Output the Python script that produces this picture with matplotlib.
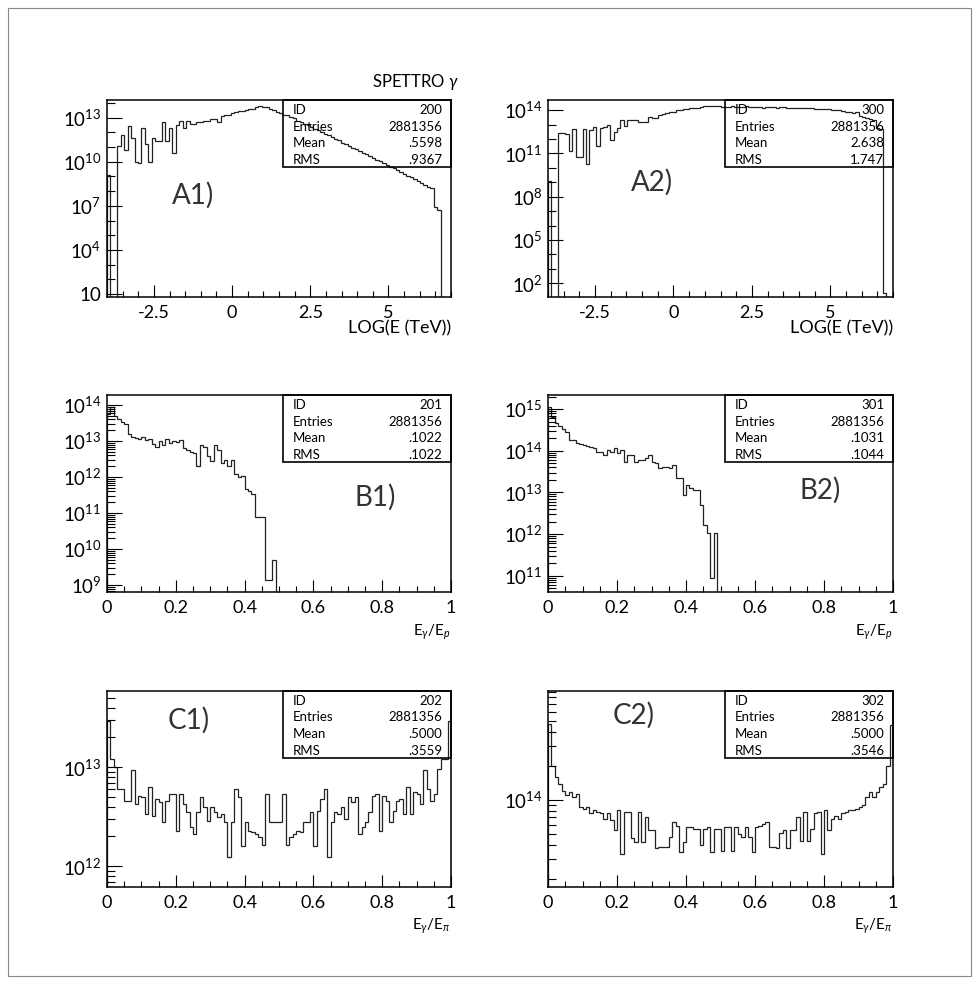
import numpy as np
import matplotlib
matplotlib.use('Agg')
import matplotlib.pyplot as plt
from matplotlib.ticker import FixedLocator, FixedFormatter, MultipleLocator, NullFormatter
from matplotlib.patches import Rectangle

plt.rcParams['font.family'] = ['Lato', 'DejaVu Sans']
plt.rcParams['font.weight'] = 'normal'
plt.rcParams['mathtext.fontset'] = 'custom'
plt.rcParams['mathtext.rm'] = 'Lato'
plt.rcParams['mathtext.it'] = 'Lato:italic'
plt.rcParams['mathtext.bf'] = 'Lato:bold'
plt.rcParams['axes.unicode_minus'] = False

# histogram contents as log10(counts), 100 bins over the axis range; -1 = empty bin
a1 = [9.1, -1, -1, 11.1, 11.8, 10.8, 12.4, 11.6, 10.0, 9.9,
      12.3, 11.2, 10.0, 11.6, 11.4, 11.4, 12.7, 11.4, 12.3, 10.6,
      12.5, 12.8, 12.3, 12.8, 12.6, 12.6, 12.7, 12.7, 12.8, 12.8,
      12.9, 12.9, 12.7, 13.1, 13.2, 13.2, 13.3, 13.4, 13.45, 13.45,
      13.55, 13.6, 13.6, 13.7, 13.8, 13.7, 13.7, 13.6, 13.5, 13.4,
      13.3, 13.2, 13.15, 13.05, 12.95, 12.8, 12.7, 12.6, 12.5, 12.35,
      12.25, 12.15, 12.0, 11.9, 11.8, 11.65, 11.55, 11.45, 11.3, 11.2,
      11.1, 10.95, 10.85, 10.75, 10.6, 10.5, 10.4, 10.25, 10.15, 10.05,
      9.9, 9.8, 9.65, 9.55, 9.45, 9.3, 9.2, 9.05, 8.95, 8.8,
      8.7, 8.55, 8.4, 8.3, 8.2, 6.95, 6.75]
a2 = [9.1, -1, -1, 12.4, 12.4, 12.35, 11.2, 12.7, 10.75, 10.75,
      12.7, 10.3, 12.6, 12.8, 11.5, 12.75, 12.85, 12.95, 11.9, 12.5,
      12.75, 13.3, 12.9, 13.3, 13.3, 13.3, 13.2, 13.2, 13.2, 13.5,
      13.45, 13.45, 13.65, 13.7, 13.8, 13.85, 13.9, 14.0, 14.0, 14.1,
      14.1, 14.15, 14.15, 14.15, 14.2, 14.25, 14.3, 14.3, 14.25, 14.25,
      14.2, 14.22, 14.2, 14.25, 14.23, 14.2, 14.22, 14.25, 14.22, 14.2,
      14.22, 14.2, 14.18, 14.2, 14.22, 14.2, 14.18, 14.2, 14.2, 14.18,
      14.15, 14.17, 14.15, 14.18, 14.15, 14.12, 14.12, 14.1, 14.1, 14.1,
      14.05, 14.05, 14.0, 14.0, 13.98, 13.95, 13.9, 13.85, 13.78, 13.85,
      13.6, 13.5, 13.45, 13.4, 13.3, 12.75, 12.7, 1.3]
b1 = [13.75, 13.95, 13.7, 13.6, 13.52, 13.48, 13.2, 13.12, 13.08, 13.05,
      13.1, 13.02, 13.06, 12.92, 12.84, 13.0, 12.88, 13.05, 12.95, 13.0,
      12.98, 13.02, 12.8, 12.76, 12.7, 12.68, 12.3, 12.9, 12.85, 12.6,
      12.45, 12.9, 12.75, 12.4, 12.48, 12.3, 12.48, 12.08, 12.0, 12.04,
      11.67, 11.62, 11.53, 10.9, 10.9, 10.9, 9.14, 9.14, 9.7]
b2 = [15.06, 14.8, 14.66, 14.6, 14.52, 14.46, 14.26, 14.26, 14.18, 14.16,
      14.14, 14.12, 14.1, 14.06, 13.98, 13.98, 13.9, 14.02, 13.98, 14.06,
      13.94, 14.02, 13.74, 13.9, 13.9, 13.74, 13.78, 13.78, 13.82, 13.9,
      13.74, 13.7, 13.58, 13.62, 13.62, 13.58, 13.66, 13.34, 13.34, 12.94,
      13.18, 13.1, 13.06, 13.06, 12.7, 12.22, 12.02, 10.94, 12.02]
c1 = [13.47, 13.08, 13.0, 12.78, 12.78, 12.66, 12.66, 12.97, 12.63, 12.71,
      12.7, 12.53, 12.8, 12.51, 12.68, 12.65, 12.45, 12.66, 12.73, 12.73,
      12.36, 12.73, 12.63, 12.55, 12.4, 12.33, 12.55, 12.7, 12.6, 12.46,
      12.6, 12.55, 12.5, 12.53, 12.45, 12.09, 12.45, 12.78, 12.7, 12.2,
      12.45, 12.36, 12.35, 12.33, 12.3, 12.21, 12.73, 12.45, 12.45, 12.45,
      12.45, 12.73, 12.21, 12.3, 12.33, 12.36, 12.35, 12.45, 12.45, 12.55,
      12.2, 12.56, 12.68, 12.78, 12.09, 12.45, 12.55, 12.53, 12.6, 12.48,
      12.7, 12.65, 12.7, 12.33, 12.4, 12.45, 12.55, 12.71, 12.73, 12.36,
      12.71, 12.66, 12.45, 12.56, 12.66, 12.68, 12.53, 12.8, 12.53, 12.75,
      12.73, 12.63, 12.97, 12.78, 12.66, 12.73, 12.98, 13.08, 13.08, 13.47]
c2 = [14.67, 14.3, 14.2, 14.14, 14.08, 14.04, 14.07, 14.02, 14.05, 13.94,
      13.92, 13.94, 13.88, 13.91, 13.89, 13.88, 13.83, 13.88, 13.82, 13.73,
      13.91, 13.52, 13.89, 13.89, 13.66, 13.63, 13.89, 13.63, 13.85, 13.73,
      13.73, 13.57, 13.58, 13.58, 13.58, 13.67, 13.8, 13.77, 13.54, 13.63,
      13.76, 13.76, 13.74, 13.74, 13.6, 13.74, 13.76, 13.54, 13.74, 13.74,
      13.55, 13.76, 13.76, 13.55, 13.76, 13.7, 13.67, 13.76, 13.67, 13.54,
      13.76, 13.77, 13.79, 13.8, 13.58, 13.58, 13.57, 13.71, 13.73, 13.57,
      13.73, 13.73, 13.85, 13.64, 13.89, 13.64, 13.74, 13.88, 13.89, 13.52,
      13.91, 13.73, 13.83, 13.86, 13.83, 13.88, 13.89, 13.91, 13.91, 13.92,
      13.94, 13.95, 14.02, 14.07, 14.02, 14.07, 14.11, 14.14, 14.3, 14.66]

ids = ['200', '300', '201', '301', '202', '302']
entries = ['2881356'] * 6
means = ['.5598', '2.638', '.1022', '.1031', '.5000', '.5000']
rmss = ['.9367', '1.747', '.1022', '.1044', '.3559', '.3546']
tags = ['A1)', 'A2)', 'B1)', 'B2)', 'C1)', 'C2)']

x_log = (-4.0, 7.0)
x_frac = (0.0, 1.0)
log_ticks = [-2.5, 0, 2.5, 5]
frac_ticks = [0, 0.2, 0.4, 0.6, 0.8, 1]

W, H = 980, 985
fig = plt.figure(figsize=(W / 100, H / 100), dpi=100)
fig.patches.append(Rectangle((8 / W, 1 - 976 / H), 963 / W, 968 / H, transform=fig.transFigure,
                             fill=False, ec='#888888', lw=0.8))
fig.text(372 / W, 1 - 82 / H, r'SPETTRO $\gamma$', ha='left', va='center', fontsize=12)


def make_ax(x0, x1, y0, y1):
    return fig.add_axes([x0 / W, 1 - y1 / H, (x1 - x0) / W, (y1 - y0) / H])


def decade_label(e):
    return '10' if e == 1 else r'$10^{%d}$' % e


def setup(ax, xr, ylog, labelled, minor, xt, xlab, xlab_y, tag, tagpos, k):
    ax.set_yscale('log')
    ax.set_xlim(*xr)
    ax.set_ylim(10 ** ylog[0], 10 ** ylog[1])
    ax.yaxis.set_major_locator(FixedLocator([10.0 ** e for e in labelled]))
    ax.yaxis.set_major_formatter(FixedFormatter([decade_label(e) for e in labelled]))
    ax.yaxis.set_minor_locator(FixedLocator(minor))
    ax.yaxis.set_minor_formatter(NullFormatter())
    ax.xaxis.set_major_locator(FixedLocator(xt))
    ax.xaxis.set_major_formatter(FixedFormatter([('%g' % t) for t in xt]))
    ax.xaxis.set_minor_locator(MultipleLocator(0.5 if xr[1] > 2 else 0.05))
    ax.tick_params(which='both', direction='in', top=False, right=False, colors='black')
    ax.tick_params(axis='y', which='major', length=11, width=0.8, labelsize=13.5, pad=4)
    ax.tick_params(axis='y', which='minor', length=6, width=0.8)
    ax.tick_params(axis='x', which='major', length=9, width=0.8, labelsize=13, pad=6)
    ax.tick_params(axis='x', which='minor', length=4, width=0.8)
    for s in ax.spines.values():
        s.set_linewidth(1.1)
    ax.text(1.0, xlab_y, xlab, transform=ax.transAxes, ha='right', va='center',
            fontsize=13 if xr[1] > 2 else 11)
    ax.text(tagpos[0], tagpos[1], tag, transform=ax.transAxes, ha='center', va='center',
            fontsize=20, color='#333333')
    ax.add_patch(Rectangle((0.513, 0.66), 0.487, 0.34, transform=ax.transAxes,
                           fill=False, ec='black', lw=1.2, clip_on=False))
    rows = [('ID', ids[k]), ('Entries', entries[k]), ('Mean', means[k]), ('RMS', rmss[k])]
    for r, (name, val) in enumerate(rows):
        yy = 0.95 - r * 0.085
        ax.text(0.54, yy, name, transform=ax.transAxes, ha='left', va='center', fontsize=9.5)
        ax.text(0.974, yy, val, transform=ax.transAxes, ha='right', va='center', fontsize=9.5)


def draw(ax, logs, xr):
    edges = np.linspace(xr[0], xr[1], 101)[:len(logs) + 1]
    ax.stairs(10.0 ** np.array(logs), edges, baseline=1e-3, color='#222222', lw=0.9)


def log_minor(lo, hi):
    return [k * 10.0 ** e for e in range(lo, hi) for k in range(2, 10)]


xlab_log = 'LOG(E (TeV))'
xlab_p = r'E$_\gamma$/E$_p$'
xlab_pi = r'E$_\gamma$/E$_\pi$'

ax = make_ax(107, 451, 100, 297)
draw(ax, a1, x_log)
setup(ax, x_log, (0.8, 14.2), [1, 4, 7, 10, 13], [10.0 ** e for e in (2, 3, 5, 6, 8, 9, 11, 12, 14)],
      log_ticks, xlab_log, -0.16, tags[0], (0.25, 0.518), 0)

ax = make_ax(548, 893, 100, 297)
draw(ax, a2, x_log)
setup(ax, x_log, (1.05, 14.7), [2, 5, 8, 11, 14], [10.0 ** e for e in (3, 4, 6, 7, 9, 10, 12, 13)],
      log_ticks, xlab_log, -0.16, tags[1], (0.30, 0.58), 1)

ax = make_ax(107, 451, 395, 592)
draw(ax, b1, x_frac)
setup(ax, x_frac, (8.81, 14.28), [9, 10, 11, 12, 13, 14], log_minor(8, 15),
      frac_ticks, xlab_p, -0.203, tags[2], (0.78, 0.482), 2)

ax = make_ax(548, 893, 395, 592)
draw(ax, b2, x_frac)
setup(ax, x_frac, (10.61, 15.34), [11, 12, 13, 14, 15], log_minor(10, 16),
      frac_ticks, xlab_p, -0.203, tags[3], (0.79, 0.518), 3)

ax = make_ax(107, 451, 691, 887)
draw(ax, c1, x_frac)
setup(ax, x_frac, (11.79, 13.77), [12, 13], log_minor(11, 14),
      frac_ticks, xlab_pi, -0.203, tags[4], (0.238, 0.853), 4)

ax = make_ax(548, 893, 691, 887)
draw(ax, c2, x_frac)
setup(ax, x_frac, (13.23, 14.96), [14], log_minor(13, 15),
      frac_ticks, xlab_pi, -0.203, tags[5], (0.249, 0.878), 5)

fig.savefig('out.png', dpi=100)
